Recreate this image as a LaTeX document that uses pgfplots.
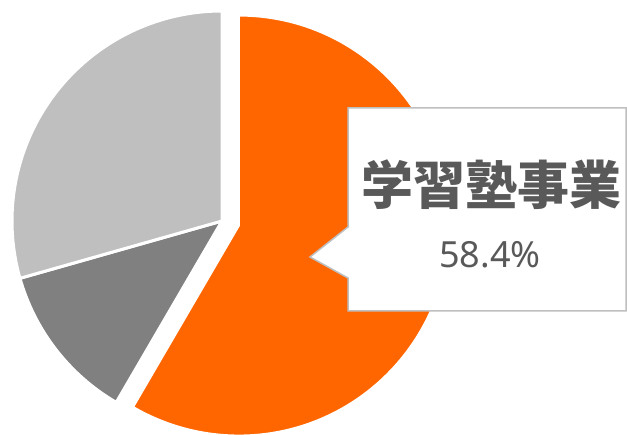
\documentclass[border=0pt]{standalone}
\usepackage{pgfplots}
\pgfplotsset{compat=1.18}
\usepackage{fontspec}
\setmainfont{Noto Sans}
\newfontfamily\cjk{Noto Sans CJK JP}

\definecolor{segOrange}{HTML}{FF6600}
\definecolor{segDark}{HTML}{808080}
\definecolor{segLight}{HTML}{BFBFBF}
\definecolor{txtGray}{HTML}{595959}
\definecolor{boxLine}{HTML}{BFBFBF}

% shares in percent, clockwise from 12 o'clock
\def\vOrange{58.4}
\def\vDark{12.2}
\def\vLight{29.4}

\begin{document}
\begin{tikzpicture}
\useasboundingbox (0,0) rectangle (627bp,435bp);
\begin{axis}[
  scale only axis,
  width=627bp, height=435bp,
  xmin=0, xmax=627, ymin=0, ymax=435,
  hide axis, clip=false,
]
\pgfmathsetmacro\aEnd{90-3.6*\vOrange}
\pgfmathsetmacro\bEnd{\aEnd-3.6*\vDark}
\pgfmathsetmacro\cEnd{\bEnd-3.6*\vLight}
\pgfmathsetmacro\mid{(90+\aEnd)/2}
% exploded orange slice
\fill[segOrange, draw=white, line width=2bp]
  (axis cs:{222+17.5*cos(\mid)},{214+17.5*sin(\mid)}) -- ++(90:210bp)
  arc[start angle=90, end angle=\aEnd, radius=210bp] -- cycle;
\fill[segDark, draw=white, line width=3bp]
  (axis cs:222,214) -- ++(\aEnd:210bp)
  arc[start angle=\aEnd, end angle=\bEnd, radius=210bp] -- cycle;
\fill[segLight, draw=white, line width=3bp]
  (axis cs:222,214) -- ++(\bEnd:210bp)
  arc[start angle=\bEnd, end angle=\cEnd, radius=210bp] -- cycle;
% callout
\filldraw[fill=white, draw=boxLine, line width=1.5bp]
  (axis cs:348,327) -- (axis cs:626,327) -- (axis cs:626,124) -- (axis cs:348,124)
  -- (axis cs:348,157) -- (axis cs:310,178) -- (axis cs:348,208) -- cycle;
\node[anchor=center, text=txtGray, font=\cjk\bfseries\fontsize{52bp}{60bp}\selectfont, inner sep=0pt]
  at (axis cs:491,250) {学習塾事業};
\node[anchor=base, text=txtGray, font=\fontsize{36bp}{42bp}\selectfont, inner sep=0pt]
  at (axis cs:490,167) {58.4\%};
\end{axis}
\end{tikzpicture}
\end{document}
